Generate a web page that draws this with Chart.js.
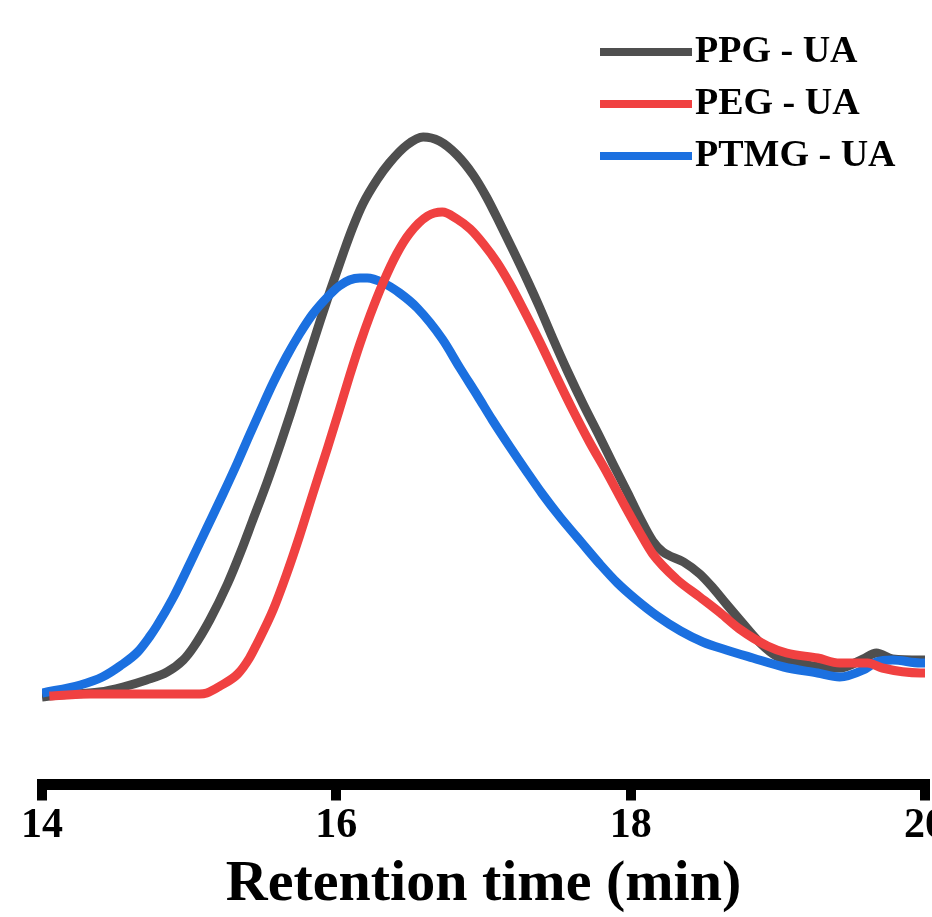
<!DOCTYPE html>
<html>
<head>
<meta charset="utf-8">
<script src="https://cdn.jsdelivr.net/npm/chart.js@4/dist/chart.umd.min.js"></script>
<style>
  html, body { margin: 0; padding: 0; background: #fff; }
  #wrap { width: 932px; height: 917px; position: relative; }
</style>
</head>
<body>
<div id="wrap"><canvas id="c"></canvas></div>
<script>
// ---- data (retention time in min, detector signal in arbitrary units) ----
const seriesLabels = ["PPG - UA", "PEG - UA", "PTMG - UA"];
const seriesColors = ["#4f4f4f", "#f04141", "#1b70e0"];
const xTicks = [14, 16, 18, 20];
const xLabel = "Retention time (min)";

const ppgTime = [14.00,14.12,14.39,14.55,14.71,14.85,14.96,15.03,15.14,15.26,15.35,15.43,15.53,15.62,15.69,15.75,15.82,15.89,15.96,16.05,16.11,16.18,16.28,16.36,16.48,16.59,16.70,16.82,16.93,17.02,17.11,17.20,17.30,17.38,17.47,17.57,17.68,17.79,17.88,17.98,18.06,18.15,18.22,18.36,18.47,18.56,18.65,18.76,18.88,18.99,19.15,19.29,19.42,19.58,19.67,19.78,19.97,20.00];
const ppgSignal = [-1.0,-0.6,0.0,1.0,2.4,4.0,6.4,9.0,14.4,21.6,28.0,34.2,42.0,49.6,55.8,61.4,67.8,74.2,80.4,88.0,92.8,97.6,102.6,105.8,109.4,111.0,110.2,107.4,103.4,99.0,93.8,88.4,82.2,77.0,70.8,64.2,57.4,51.0,45.6,39.8,35.0,30.2,28.0,26.0,23.6,20.8,17.6,13.8,9.8,7.2,5.8,5.0,4.8,6.6,7.8,6.6,6.4,6.4];

const pegTime = [14.05,14.33,14.73,15.07,15.12,15.21,15.33,15.41,15.46,15.57,15.66,15.75,15.84,15.94,16.02,16.09,16.16,16.23,16.32,16.41,16.50,16.62,16.72,16.82,16.91,17.00,17.09,17.18,17.27,17.38,17.50,17.61,17.72,17.84,17.95,18.06,18.15,18.31,18.47,18.61,18.74,18.93,19.06,19.27,19.42,19.61,19.71,19.97,20.00];
const pegSignal = [-0.8,-0.4,-0.4,-0.4,-0.2,1.2,3.6,6.8,9.6,16.4,23.4,31.2,39.6,48.8,56.4,63.2,69.6,75.4,82.0,87.6,91.8,95.2,96.0,94.6,92.6,89.6,86.0,81.6,76.6,70.2,62.8,56.2,50.0,43.8,37.8,32.0,27.6,22.6,19.0,15.8,12.6,9.2,7.8,6.8,5.8,5.8,4.8,3.8,3.8];

const ptmgTime = [14.00,14.26,14.41,14.53,14.65,14.73,14.78,14.89,15.01,15.12,15.23,15.33,15.41,15.48,15.57,15.66,15.75,15.84,15.94,16.02,16.09,16.16,16.21,16.32,16.43,16.55,16.72,16.84,16.96,17.06,17.18,17.30,17.40,17.52,17.64,17.72,17.79,17.91,18.04,18.18,18.34,18.49,18.65,18.83,19.04,19.27,19.42,19.58,19.67,19.78,19.97,20.00];
const ptmgSignal = [-0.2,1.4,3.0,5.2,8.0,11.0,13.2,18.8,26.0,32.8,39.6,46.0,51.4,56.0,61.8,67.0,71.6,75.6,79.0,81.2,82.4,82.8,82.8,81.8,79.8,76.8,70.6,64.8,59.2,54.4,49.0,43.8,39.6,35.0,30.8,28.0,25.6,21.8,18.4,15.2,12.2,10.0,8.4,6.8,5.0,3.8,3.0,4.4,6.0,6.4,5.8,5.8];

const xMin = 14, xMax = 20;
const yMin = -18.5, yMax = 138.4;

function pts(t, s) { return t.map((v, i) => ({ x: v, y: s[i] })); }

const serif = "'Liberation Serif', 'Times New Roman', 'DejaVu Serif', serif";

const legendPlugin = {
  id: 'insetLegend',
  afterDraw(chart) {
    const ctx = chart.ctx;
    const ds = chart.data.datasets;
    const x0 = 600, x1 = 692, xt = 695, y0 = 52, dy = 52;
    ctx.save();
    ctx.font = "bold 38px " + serif;
    ctx.textBaseline = 'middle';
    ctx.textAlign = 'left';
    ds.forEach((d, i) => {
      const y = y0 + i * dy;
      ctx.strokeStyle = d.borderColor;
      ctx.lineWidth = 8;
      ctx.lineCap = 'butt';
      ctx.beginPath();
      ctx.moveTo(x0, y);
      ctx.lineTo(x1, y);
      ctx.stroke();
      ctx.fillStyle = '#000';
      ctx.fillText(d.label, xt, y);
    });
    ctx.restore();
  }
};

new Chart(document.getElementById('c'), {
  type: 'line',
  data: {
    datasets: [
      { label: seriesLabels[0], data: pts(ppgTime, ppgSignal), borderColor: seriesColors[0], order: 3 },
      { label: seriesLabels[1], data: pts(pegTime, pegSignal), borderColor: seriesColors[1], order: 1 },
      { label: seriesLabels[2], data: pts(ptmgTime, ptmgSignal), borderColor: seriesColors[2], order: 2 }
    ]
  },
  options: {
    responsive: true,
    maintainAspectRatio: false,
    animation: false,
    layout: { padding: { left: 42, right: 7, top: 0, bottom: 0 } },
    elements: {
      line: { borderWidth: 9, cubicInterpolationMode: 'monotone', fill: false, borderCapStyle: 'butt', borderJoinStyle: 'round' },
      point: { radius: 0, hoverRadius: 0 }
    },
    plugins: { legend: { display: false }, tooltip: { enabled: false } },
    scales: {
      x: {
        type: 'linear',
        min: xMin, max: xMax,
        afterBuildTicks(scale) { scale.ticks = xTicks.map(v => ({ value: v })); },
        afterFit(scale) { scale.height = 132.5; scale.paddingLeft = 0; scale.paddingRight = 0; },
        grid: { drawOnChartArea: false, drawTicks: true, tickLength: 16, tickWidth: 10, lineWidth: 10, tickColor: '#000', color: '#000' },
        border: { display: true, color: '#000', width: 11 },
        ticks: { color: '#000', padding: 0, maxRotation: 0, font: { family: serif, size: 42, weight: 'bold', lineHeight: 1.2 } },
        title: { display: true, text: xLabel, color: '#000', padding: { top: 0, bottom: 3 }, font: { family: serif, size: 58, weight: 'bold', lineHeight: 1 } }
      },
      y: {
        display: false,
        min: yMin, max: yMax
      }
    }
  },
  plugins: [legendPlugin]
});
</script>
</body>
</html>
